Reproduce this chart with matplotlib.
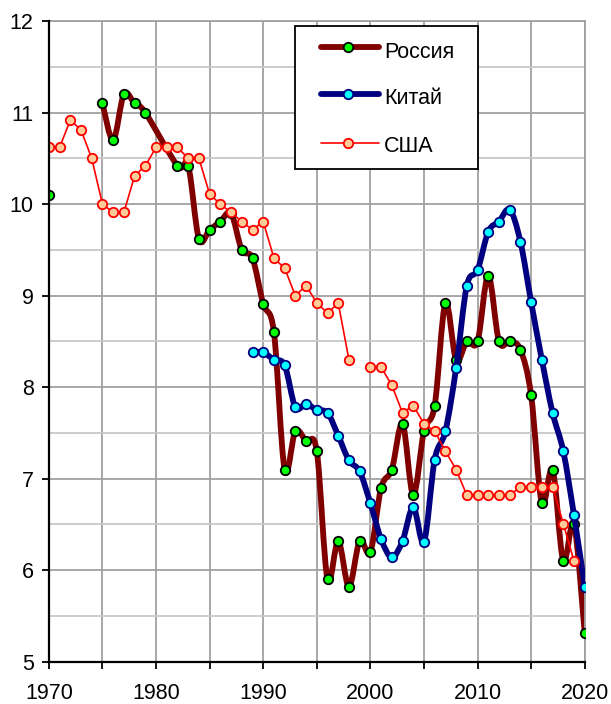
import numpy as np
import matplotlib
matplotlib.use("Agg")
import matplotlib.pyplot as plt
from matplotlib.path import Path
from matplotlib.patches import PathPatch, Rectangle
from matplotlib.lines import Line2D
from matplotlib.ticker import MultipleLocator, FuncFormatter

plt.rcParams['font.family'] = ['Liberation Sans', 'DejaVu Sans']

years = np.arange(1970, 2021)
nan = np.nan

# Россия
russia = [10.1, nan, nan, nan, nan,
          11.1, 10.7, 11.2, 11.1, 11.0,
          nan, nan, 10.42, 10.42, 9.62,
          9.72, 9.81, 9.9, 9.5, 9.41,
          8.91, 8.6, 7.1, 7.52, 7.41,
          7.3, 5.9, 6.32, 5.82, 6.32,
          6.2, 6.9, 7.1, 7.6, 6.82,
          7.52, 7.8, 8.92, 8.3, 8.5,
          8.5, 9.22, 8.5, 8.5, 8.41,
          7.91, 6.73, 7.1, 6.1, 6.5,
          5.31]

# Китай
china = [nan] * 19 + [
          8.38, 8.38, 8.3, 8.24, 7.78, 7.82, 7.75, 7.72, 7.47, 7.2,
          7.08, 6.73, 6.34, 6.14, 6.32, 6.69, 6.31, 7.21, 7.52, 8.21,
          9.11, 9.28, 9.7, 9.81, 9.94, 9.59, 8.93, 8.3, 7.72, 7.3,
          6.6, 5.82]

# США
usa = [10.62, 10.62, 10.92, 10.81, 10.5,
       10.0, 9.91, 9.91, 10.31, 10.42,
       10.62, 10.62, 10.62, 10.5, 10.5,
       10.11, 10.0, 9.91, 9.81, 9.72,
       9.81, 9.41, 9.3, 9.0, 9.11,
       8.92, 8.81, 8.92, 8.3, nan,
       8.22, 8.22, 8.02, 7.72, 7.8,
       7.6, 7.52, 7.3, 7.1, 6.82,
       6.82, 6.82, 6.82, 6.82, 6.91,
       6.91, 6.91, 6.91, 6.51, 6.1,
       nan]

labels = ['Россия', 'Китай', 'США']

FS = 15.5
MS = 6.8


def smooth_path(x, y, max_gap=3):
    # smoothed line through the points (Catmull-Rom as cubic Bezier),
    # short gaps are bridged, long gaps break the line
    x = np.asarray(x, float)
    y = np.asarray(y, float)
    ok = ~np.isnan(y)
    x, y = x[ok], y[ok]
    runs = []
    start = 0
    for i in range(1, len(x)):
        if x[i] - x[i - 1] > max_gap:
            runs.append((start, i))
            start = i
    runs.append((start, len(x)))
    verts, codes = [], []
    for a, b in runs:
        p = np.column_stack([x[a:b], y[a:b]])
        n = len(p)
        if n < 2:
            continue
        verts.append(p[0])
        codes.append(Path.MOVETO)
        for i in range(n - 1):
            p_prev = p[max(i - 1, 0)]
            p_next2 = p[min(i + 2, n - 1)]
            c1 = p[i] + (p[i + 1] - p_prev) / 6.0
            c2 = p[i + 1] - (p_next2 - p[i]) / 6.0
            verts += [c1, c2, p[i + 1]]
            codes += [Path.CURVE4] * 3
    return Path(verts, codes)


styles = [
    dict(color='#800000', linewidth=4.2, markerfacecolor='#00ff00',
         markeredgecolor='black'),
    dict(color='#000080', linewidth=4.2, markerfacecolor='#00ffff',
         markeredgecolor='#000080'),
    dict(color='#ff0000', linewidth=1.2, markerfacecolor='#ffcc99',
         markeredgecolor='#ff0000'),
]

fig = plt.figure(figsize=(6.11, 7.04), dpi=100)
ax = fig.add_axes([0.080, 0.060, 0.877, 0.910])

ax.set_xlim(1970, 2020)
ax.set_ylim(5, 12)

# grid
ax.xaxis.set_major_locator(MultipleLocator(5))
ax.yaxis.set_major_locator(MultipleLocator(1))
ax.yaxis.set_minor_locator(MultipleLocator(0.5))
ax.grid(which='major', color='#a0a0a0', linewidth=1.3, zorder=0)
ax.grid(which='minor', axis='y', color='#c8c8c8', linewidth=1.3, zorder=0)
ax.tick_params(which='minor', length=0)
ax.tick_params(which='major', direction='out', length=5, width=1.3,
               labelsize=FS, color='black')
ax.tick_params(axis='x', pad=10)
ax.tick_params(axis='y', pad=6)
ax.xaxis.set_major_formatter(FuncFormatter(
    lambda v, p: f'{int(round(v))}' if int(round(v)) % 10 == 0 else ''))
ax.yaxis.set_major_formatter(FuncFormatter(lambda v, p: f'{int(round(v))}'))

for side in ['top', 'right']:
    ax.spines[side].set_color('#a0a0a0')
    ax.spines[side].set_linewidth(1.3)
for side in ['left', 'bottom']:
    ax.spines[side].set_color('black')
    ax.spines[side].set_linewidth(1.6)
    ax.spines[side].set_zorder(6)

# Россия
ax.add_patch(PathPatch(smooth_path(years, russia), facecolor='none',
                       edgecolor=styles[0]['color'], linewidth=4.2, zorder=2,
                       capstyle='round', joinstyle='round'))
ax.plot(years, russia, linestyle='none', marker='o', markersize=MS,
        markerfacecolor='#00ff00', markeredgecolor='black',
        markeredgewidth=1.3, zorder=3)

# Китай
ax.add_patch(PathPatch(smooth_path(years, china), facecolor='none',
                       edgecolor=styles[1]['color'], linewidth=4.2, zorder=4,
                       capstyle='round', joinstyle='round'))
ax.plot(years, china, linestyle='none', marker='o', markersize=MS,
        markerfacecolor='#00ffff', markeredgecolor='#000080',
        markeredgewidth=1.3, zorder=4.5)

# США
ax.plot(years, usa, color='#ff0000', linewidth=1.2, marker='o',
        markersize=MS, markerfacecolor='#ffcc99', markeredgecolor='#ff0000',
        markeredgewidth=1.3, zorder=5)

# legend box drawn by hand
ax.add_patch(Rectangle((0.459, 0.769), 0.341, 0.223, transform=ax.transAxes,
                       facecolor='white', edgecolor='black', linewidth=1.3,
                       zorder=7, clip_on=False))
row_y = [0.960, 0.887, 0.809]
text_y = [0.942, 0.870, 0.795]
for lab, st, yl, yt in zip(labels, styles, row_y, text_y):
    ax.add_line(Line2D([0.507, 0.616], [yl, yl], transform=ax.transAxes,
                       color=st['color'], linewidth=st['linewidth'],
                       solid_capstyle='round', zorder=8, clip_on=False))
    ax.add_line(Line2D([0.558], [yl], transform=ax.transAxes,
                       linestyle='none', marker='o', markersize=MS,
                       markerfacecolor=st['markerfacecolor'],
                       markeredgecolor=st['markeredgecolor'],
                       markeredgewidth=1.3, zorder=9, clip_on=False))
    ax.text(0.625, yt, lab, transform=ax.transAxes, fontsize=FS,
            va='baseline', ha='left', zorder=9)

fig.savefig('out.png', dpi=100)
